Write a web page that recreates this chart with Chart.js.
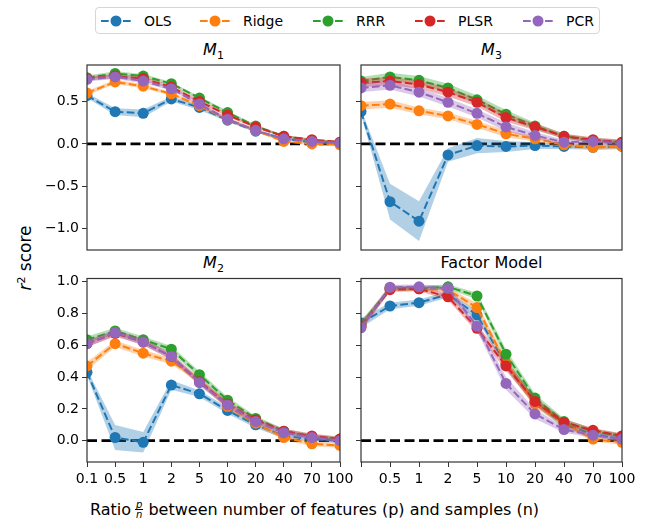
<!DOCTYPE html>
<html>
<head>
<meta charset="utf-8">
<script src="https://cdn.jsdelivr.net/npm/chart.js@4.4.1/dist/chart.umd.min.js"></script>
<style>
  body { margin: 0; width: 648px; height: 523px; background: #fff; position: relative; overflow: hidden;
         font-family: "DejaVu Sans", sans-serif; color: #000; }
  canvas { position: absolute; }
  .title { position: absolute; font-size: 16px; line-height: 20px; text-align: center; white-space: nowrap; }
  .title sub { font-size: 11px; line-height: 0; font-style: normal; }
  .legend { position: absolute; left: 95px; top: 7px; width: 503px; height: 25px; border: 1px solid #d6d6d6; border-radius: 4px; }
  .item { position: absolute; top: 0; height: 25px; display: flex; align-items: center; font-size: 14px; }
  .item svg { margin-right: 13px; }
  .ylab { position: absolute; left: 25px; top: 258px; transform: translate(-50%, -50%) rotate(-90deg); font-size: 17px; white-space: nowrap; }
  .xlab { position: absolute; left: 90px; top: 500px; font-size: 16px; white-space: nowrap; display: flex; align-items: center; }
  .frac { display: inline-flex; flex-direction: column; align-items: center; font-size: 10px; font-style: italic; line-height: 9px; margin: 0 5px 0 4px; }
  .frac span:first-child { border-bottom: 0.8px solid #000; padding: 0 1px; }
</style>
</head>
<body>
<div class="legend" id="legend"></div>

<div class="title" style="left:87px;width:253px;top:40px"><i>M</i><sub>1</sub></div>
<div class="title" style="left:361px;width:261px;top:40px"><i>M</i><sub>3</sub></div>
<div class="title" style="left:87px;width:253px;top:253px"><i>M</i><sub>2</sub></div>
<div class="title" style="left:361px;width:261px;top:253px">Factor Model</div>

<div class="ylab"><i>r</i><sup style="font-size:11px">2</sup> score</div>
<div class="xlab">Ratio<span class="frac"><span>p</span><span>n</span></span>between number of features (p) and samples (n)</div>

<canvas id="m1" width="360" height="220" style="left:0;top:40px"></canvas>
<canvas id="m3" width="300" height="220" style="left:345px;top:40px"></canvas>
<canvas id="m2" width="360" height="217" style="left:0;top:273px"></canvas>
<canvas id="fm" width="300" height="217" style="left:345px;top:273px"></canvas>

<script>
// x categories: ratio p/n
const ratios = ['0.1', '0.5', '1', '2', '5', '10', '20', '40', '70', '100'];
const models = ['OLS', 'Ridge', 'RRR', 'PLSR', 'PCR'];
const colors = ['#1f77b4', '#ff7f0e', '#2ca02c', '#d62728', '#9467bd'];

// M1 — mean r2 and spread
const m1_ols   = [0.57, 0.38, 0.36, 0.53, 0.43, 0.28, 0.15, 0.06, 0.02, 0.01];
const m1_ridge = [0.60, 0.73, 0.68, 0.59, 0.45, 0.29, 0.16, 0.03, 0.00, -0.01];
const m1_rrr   = [0.78, 0.83, 0.80, 0.71, 0.54, 0.37, 0.21, 0.09, 0.04, 0.02];
const m1_plsr  = [0.77, 0.80, 0.77, 0.67, 0.50, 0.34, 0.20, 0.09, 0.05, 0.02];
const m1_pcr   = [0.76, 0.79, 0.74, 0.65, 0.47, 0.29, 0.16, 0.06, 0.03, 0.01];
const m1_ols_sd   = [0.03, 0.04, 0.045, 0.03, 0.03, 0.02, 0.015, 0.015, 0.015, 0.015];
const m1_ridge_sd = [0.025, 0.025, 0.025, 0.02, 0.02, 0.02, 0.015, 0.015, 0.015, 0.015];
const m1_rrr_sd   = [0.025, 0.025, 0.025, 0.02, 0.02, 0.02, 0.015, 0.015, 0.015, 0.015];
const m1_plsr_sd  = [0.025, 0.025, 0.025, 0.02, 0.02, 0.02, 0.015, 0.015, 0.015, 0.015];
const m1_pcr_sd   = [0.025, 0.025, 0.025, 0.02, 0.02, 0.02, 0.015, 0.015, 0.015, 0.015];

// M3
const m3_ols   = [0.38, -0.68, -0.91, -0.13, -0.02, -0.03, -0.02, -0.03, -0.04, -0.03];
const m3_ridge = [0.45, 0.47, 0.39, 0.33, 0.23, 0.12, 0.06, -0.01, -0.04, -0.03];
const m3_rrr   = [0.74, 0.79, 0.75, 0.66, 0.52, 0.35, 0.21, 0.09, 0.04, 0.02];
const m3_plsr  = [0.72, 0.74, 0.70, 0.61, 0.49, 0.31, 0.20, 0.09, 0.05, 0.02];
const m3_pcr   = [0.66, 0.69, 0.61, 0.49, 0.36, 0.20, 0.10, 0.02, 0.03, 0.00];
const m3_ols_sd   = [0.03, 0.21, 0.235, 0.08, 0.09, 0.065, 0.04, 0.03, 0.03, 0.03];
const m3_ridge_sd = [0.045, 0.045, 0.04, 0.04, 0.04, 0.04, 0.03, 0.03, 0.03, 0.03];
const m3_rrr_sd   = [0.05, 0.05, 0.05, 0.05, 0.05, 0.05, 0.04, 0.03, 0.03, 0.03];
const m3_plsr_sd  = [0.05, 0.05, 0.05, 0.05, 0.05, 0.05, 0.04, 0.03, 0.03, 0.03];
const m3_pcr_sd   = [0.05, 0.05, 0.05, 0.05, 0.05, 0.05, 0.04, 0.03, 0.03, 0.03];

// M2
const m2_ols   = [0.43, 0.02, -0.01, 0.35, 0.295, 0.19, 0.10, 0.03, 0.01, 0.00];
const m2_ridge = [0.47, 0.61, 0.55, 0.50, 0.38, 0.215, 0.11, 0.02, -0.02, -0.03];
const m2_rrr   = [0.635, 0.69, 0.635, 0.575, 0.415, 0.255, 0.14, 0.06, 0.025, 0.01];
const m2_plsr  = [0.61, 0.675, 0.62, 0.53, 0.37, 0.23, 0.13, 0.06, 0.03, 0.01];
const m2_pcr   = [0.61, 0.68, 0.62, 0.53, 0.365, 0.225, 0.12, 0.05, 0.02, 0.00];
const m2_ols_sd   = [0.02, 0.078, 0.065, 0.03, 0.02, 0.02, 0.02, 0.015, 0.015, 0.015];
const m2_ridge_sd = [0.025, 0.02, 0.02, 0.02, 0.02, 0.02, 0.015, 0.015, 0.015, 0.015];
const m2_rrr_sd   = [0.02, 0.02, 0.02, 0.02, 0.02, 0.02, 0.015, 0.015, 0.015, 0.015];
const m2_plsr_sd  = [0.02, 0.02, 0.02, 0.02, 0.02, 0.02, 0.015, 0.015, 0.015, 0.015];
const m2_pcr_sd   = [0.02, 0.02, 0.02, 0.02, 0.02, 0.02, 0.015, 0.015, 0.015, 0.015];

// Factor model
const fm_ols   = [0.74, 0.847, 0.868, 0.92, 0.79, 0.48, 0.245, 0.10, 0.04, 0.01];
const fm_ridge = [0.72, 0.958, 0.955, 0.948, 0.837, 0.49, 0.232, 0.11, 0.01, -0.01];
const fm_rrr   = [0.73, 0.96, 0.96, 0.968, 0.91, 0.544, 0.268, 0.12, 0.06, 0.03];
const fm_plsr  = [0.72, 0.95, 0.955, 0.905, 0.707, 0.47, 0.247, 0.115, 0.065, 0.03];
const fm_pcr   = [0.71, 0.965, 0.968, 0.958, 0.72, 0.36, 0.168, 0.07, 0.035, 0.01];
const fm_ols_sd   = [0.03, 0.02, 0.02, 0.02, 0.025, 0.03, 0.025, 0.02, 0.015, 0.015];
const fm_ridge_sd = [0.025, 0.015, 0.015, 0.015, 0.025, 0.03, 0.025, 0.02, 0.015, 0.015];
const fm_rrr_sd   = [0.025, 0.015, 0.015, 0.015, 0.02, 0.03, 0.025, 0.02, 0.015, 0.015];
const fm_plsr_sd  = [0.025, 0.015, 0.015, 0.02, 0.025, 0.03, 0.025, 0.02, 0.015, 0.015];
const fm_pcr_sd   = [0.025, 0.015, 0.015, 0.015, 0.03, 0.04, 0.03, 0.02, 0.015, 0.015];

Chart.defaults.font.family = '"DejaVu Sans", sans-serif';
Chart.defaults.font.size = 14;
Chart.defaults.color = '#000';
Chart.defaults.animation = false;

function hexA(hex, a) {
    const n = parseInt(hex.slice(1), 16);
    return `rgba(${n >> 16}, ${(n >> 8) & 255}, ${n & 255}, ${a})`;
}

// three datasets per model: lower edge, upper edge (filled to lower), dashed line with markers
function modelSets(means, sds) {
    const sets = [];
    means.forEach((mean, k) => {
        const sd = sds[k];
        const c = colors[k];
        const base = { pointRadius: 0, borderWidth: 0, clip: 0, fill: false };
        sets.push({ ...base, label: '', data: mean.map((v, i) => v - sd[i]), order: 9 - 2 * k });
        sets.push({ ...base, label: '', data: mean.map((v, i) => v + sd[i]), order: 9 - 2 * k,
                    fill: '-1', backgroundColor: hexA(c, 0.35) });
        sets.push({
            label: models[k], data: mean, order: 8 - 2 * k,
            borderColor: c, borderWidth: 2, borderDash: [7.7, 3.3],
            pointRadius: 5.5, pointBackgroundColor: c, pointBorderWidth: 0,
            fill: false, clip: 0, tension: 0,
        });
    });
    return sets;
}

const frame = {
    id: 'frame',
    beforeDatasetsDraw(chart) {
        const { ctx, chartArea: a, scales: { y } } = chart;
        const py = y.getPixelForValue(0);
        ctx.save();
        ctx.strokeStyle = '#000';
        ctx.lineWidth = 2.8;
        ctx.setLineDash([10, 4.5]);
        ctx.beginPath();
        ctx.moveTo(a.left, py);
        ctx.lineTo(a.right, py);
        ctx.stroke();
        ctx.restore();
    },
    afterDraw(chart) {
        const { ctx, chartArea: a } = chart;
        ctx.save();
        ctx.strokeStyle = '#333';
        ctx.lineWidth = 1.2;
        ctx.strokeRect(a.left, a.top, a.right - a.left, a.bottom - a.top);
        ctx.restore();
    },
};

const tickFmt = (v) => (Math.abs(v) < 1e-9 ? 0 : v).toFixed(1).replace('-', '\u2212');

function panel(id, means, sds, o) {
    new Chart(document.getElementById(id), {
        type: 'line',
        data: { labels: ratios, datasets: modelSets(means, sds) },
        options: {
            responsive: false,
            layout: { padding: o.pad },
            plugins: { legend: { display: false }, tooltip: { enabled: false } },
            scales: {
                x: {
                    type: 'category',
                    offset: false,
                    border: { display: false },
                    grid: { display: o.showX, drawOnChartArea: false, drawTicks: true, tickLength: 5, color: '#333' },
                    ticks: {
                        display: o.showX, maxRotation: 0, autoSkip: false, padding: 4,
                        callback: (v, i) => (o.hideFirst && i === 0 ? '' : ratios[i]),
                    },
                    afterFit: (s) => { s.height = o.showX ? 28 : 0; s.paddingLeft = 0; s.paddingRight = 0; },
                },
                y: {
                    min: o.min, max: o.max,
                    border: { display: false },
                    grid: { drawOnChartArea: false, drawTicks: true, tickLength: 5, color: '#333' },
                    ticks: {
                        stepSize: o.step, includeBounds: false, padding: 3,
                        color: o.showY ? '#000' : 'rgba(0,0,0,0)',
                        callback: tickFmt,
                    },
                    afterFit: (s) => { s.width = o.yw; s.paddingTop = 0; s.paddingBottom = 0; },
                },
            },
        },
        plugins: [frame],
    });
}

const topRow = { min: -1.25, max: 0.93, step: 0.5, showX: false };
const botRow = { min: -0.134, max: 1.02, step: 0.2, showX: true };
const leftCol = { showY: true, yw: 87 };
const rightCol = { showY: false, yw: 16 };

panel('m1', [m1_ols, m1_ridge, m1_rrr, m1_plsr, m1_pcr],
      [m1_ols_sd, m1_ridge_sd, m1_rrr_sd, m1_plsr_sd, m1_pcr_sd],
      { ...topRow, ...leftCol, pad: { top: 25, right: 20, bottom: 10, left: 0 } });
panel('m3', [m3_ols, m3_ridge, m3_rrr, m3_plsr, m3_pcr],
      [m3_ols_sd, m3_ridge_sd, m3_rrr_sd, m3_plsr_sd, m3_pcr_sd],
      { ...topRow, ...rightCol, pad: { top: 25, right: 23, bottom: 10, left: 0 } });
panel('m2', [m2_ols, m2_ridge, m2_rrr, m2_plsr, m2_pcr],
      [m2_ols_sd, m2_ridge_sd, m2_rrr_sd, m2_plsr_sd, m2_pcr_sd],
      { ...botRow, ...leftCol, pad: { top: 5, right: 20, bottom: 0, left: 0 } });
panel('fm', [fm_ols, fm_ridge, fm_rrr, fm_plsr, fm_pcr],
      [fm_ols_sd, fm_ridge_sd, fm_rrr_sd, fm_plsr_sd, fm_pcr_sd],
      { ...botRow, ...rightCol, hideFirst: true, pad: { top: 5, right: 23, bottom: 0, left: 0 } });

// legend strip
const legendX = [5, 104, 217, 319, 427];
const legend = document.getElementById('legend');
models.forEach((m, k) => {
    const it = document.createElement('div');
    it.className = 'item';
    it.style.left = legendX[k] + 'px';
    it.innerHTML = `<svg width="30" height="12"><line x1="0" y1="6" x2="30" y2="6" stroke="${colors[k]}" stroke-width="2" stroke-dasharray="7.7 3.3"/><circle cx="15" cy="6" r="5.5" fill="${colors[k]}"/></svg>${m}`;
    legend.appendChild(it);
});
</script>
</body>
</html>
